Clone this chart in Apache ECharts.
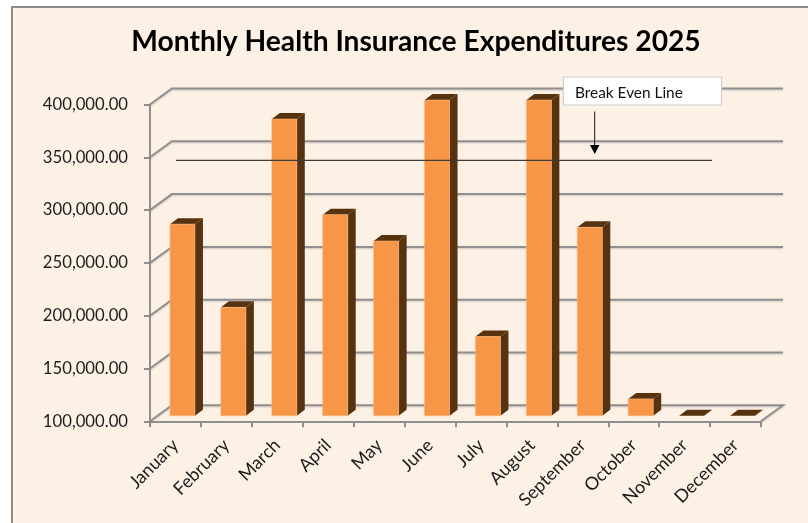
<!DOCTYPE html>
<html>
<head>
<meta charset="utf-8">
<style>html,body{margin:0;padding:0;background:#fff}#c{width:808px;height:523px}</style>
<script src="https://cdn.jsdelivr.net/npm/echarts@6/dist/echarts.min.js"></script>
</head>
<body>
<div id="c"></div>
<script>
const titleText = 'Monthly Health Insurance Expenditures 2025';
const categories = ['January','February','March','April','May','June','July','August','September','October','November','December'];
const expenditures = [281500,202700,381000,290500,265500,399000,175000,399000,278500,116000,100000,100000];
const yTicks = [100000,150000,200000,250000,300000,350000,400000];
const breakEvenValue = 347000;
const breakEvenLabel = 'Break Even Line';

const FONT = 'Lato, "Open Sans", sans-serif';
const WALL_DX = 22, WALL_DY = -16;
const BAR_DX = 8, BAR_DY = -6, BAR_W = 25, BAR_SHIFT_X = 7, BAR_SHIFT_Y = -5.5;
const GRID_COLOR = '#8f8f8f';
const shadow = {shadowColor:'rgba(0,0,0,0.18)',shadowBlur:2,shadowOffsetY:1};

const chart = echarts.init(document.getElementById('c'), null, {renderer:'canvas'});

function wallItem(params, api){
  const v = api.value(0);
  const n = categories.length;
  const p = api.coord([0, v]);
  const band = api.size([1,0])[0];
  const x0 = p[0] - band/2, y = p[1];
  const x1 = x0 + band*n;
  const pts = v === yTicks[0]
    ? [[x0,y],[x0+WALL_DX,y+WALL_DY],[x1+WALL_DX,y+WALL_DY],[x1,y]]
    : [[x0,y],[x0+WALL_DX,y+WALL_DY],[x1+WALL_DX,y+WALL_DY]];
  return {type:'polyline',shape:{points:pts},style:Object.assign({stroke:GRID_COLOR,lineWidth:2,fill:null},shadow)};
}

function barItem(params, api){
  const c = api.coord([api.value(0), api.value(1)]);
  const base = api.coord([api.value(0), yTicks[0]]);
  const x = c[0] + BAR_SHIFT_X - BAR_W/2;
  const xr = x + BAR_W;
  const top = c[1] + BAR_SHIFT_Y;
  const bot = base[1] + BAR_SHIFT_Y;
  const children = [];
  children.push({type:'polygon',shape:{points:[[xr,bot],[xr+BAR_DX,bot+BAR_DY],[xr+BAR_DX,top+BAR_DY],[xr,top]]},style:{fill:'#57320f'}});
  children.push({type:'polygon',shape:{points:[[x,top],[x+BAR_DX,top+BAR_DY],[xr+BAR_DX,top+BAR_DY],[xr,top]]},style:{fill:'#57320f'}});
  if(bot-top>0.5) children.push({type:'rect',shape:{x:x,y:top,width:BAR_W,height:bot-top},style:{fill:'#F79646',stroke:'#fbb57e',lineWidth:0.6}});
  return {type:'group',children};
}

function breakEvenItem(params, api){
  const a = api.coord([0, api.value(0)]);
  const b = api.coord([categories.length-2, api.value(0)]);
  return {type:'line',shape:{x1:a[0]+0.5,y1:a[1],x2:b[0]+27.5,y2:a[1]},style:{stroke:'#3f3a34',lineWidth:1.2}};
}

chart.setOption({
  animation:false,
  backgroundColor:'#fff',
  title:{text:titleText,left:411,top:23,textAlign:'center',textStyle:{fontFamily:FONT,fontWeight:'bold',fontSize:28.2,color:'#000'}},
  grid:{left:150,top:104.5,width:611,height:316.8,containLabel:false},
  xAxis:{type:'category',data:categories,
    axisLine:{show:true,lineStyle:{color:GRID_COLOR,width:2}},
    axisTick:{show:true,length:6,lineStyle:{color:GRID_COLOR,width:2}},
    axisLabel:{interval:0,rotate:45,margin:21,fontFamily:FONT,fontSize:18,color:'#1c1c1c'}},
  yAxis:{type:'value',min:100000,max:400000,interval:50000,
    axisLine:{show:true,lineStyle:{color:GRID_COLOR,width:2}},
    axisTick:{show:true,length:6,lineStyle:{color:GRID_COLOR,width:2}},
    splitLine:{show:false},
    axisLabel:{margin:22,fontFamily:FONT,fontSize:16.7,color:'#1c1c1c',
      formatter:v=>v.toLocaleString('en-US',{minimumFractionDigits:2,maximumFractionDigits:2})}},
  series:[
    {type:'custom',name:'wall',coordinateSystem:'cartesian2d',clip:false,silent:true,z:1,
      data:yTicks.map(v=>[v]),encode:{y:0},renderItem:wallItem},
    {type:'custom',name:'Expenditures',coordinateSystem:'cartesian2d',clip:false,z:2,
      data:expenditures.map((v,i)=>[i,v]),encode:{x:0,y:1},renderItem:barItem},
    {type:'custom',name:breakEvenLabel,coordinateSystem:'cartesian2d',clip:false,silent:true,z:3,
      data:[[breakEvenValue]],encode:{y:0},renderItem:breakEvenItem}
  ],
  graphic:{elements:[
    {type:'rect',z:-1,silent:true,shape:{x:12,y:7,width:806,height:530},style:{fill:'#FDF1E6',stroke:'#8a8a8a',lineWidth:2}},
    {type:'rect',z:10,silent:true,shape:{x:563.5,y:77,width:158,height:28},style:{fill:'#fff',stroke:'#d0d0d0',lineWidth:1.2}},
    {type:'text',z:11,silent:true,x:575,y:93.5,style:{text:breakEvenLabel,fontFamily:FONT,fontSize:15.4,fill:'#111',verticalAlign:'middle'}},
    {type:'line',z:11,silent:true,shape:{x1:594.7,y1:111.5,x2:594.7,y2:147},style:{stroke:'#111',lineWidth:1}},
    {type:'polygon',z:11,silent:true,shape:{points:[[590,145],[599.5,145],[594.7,154]]},style:{fill:'#000'}}
  ]}
});
</script>
</body>
</html>
